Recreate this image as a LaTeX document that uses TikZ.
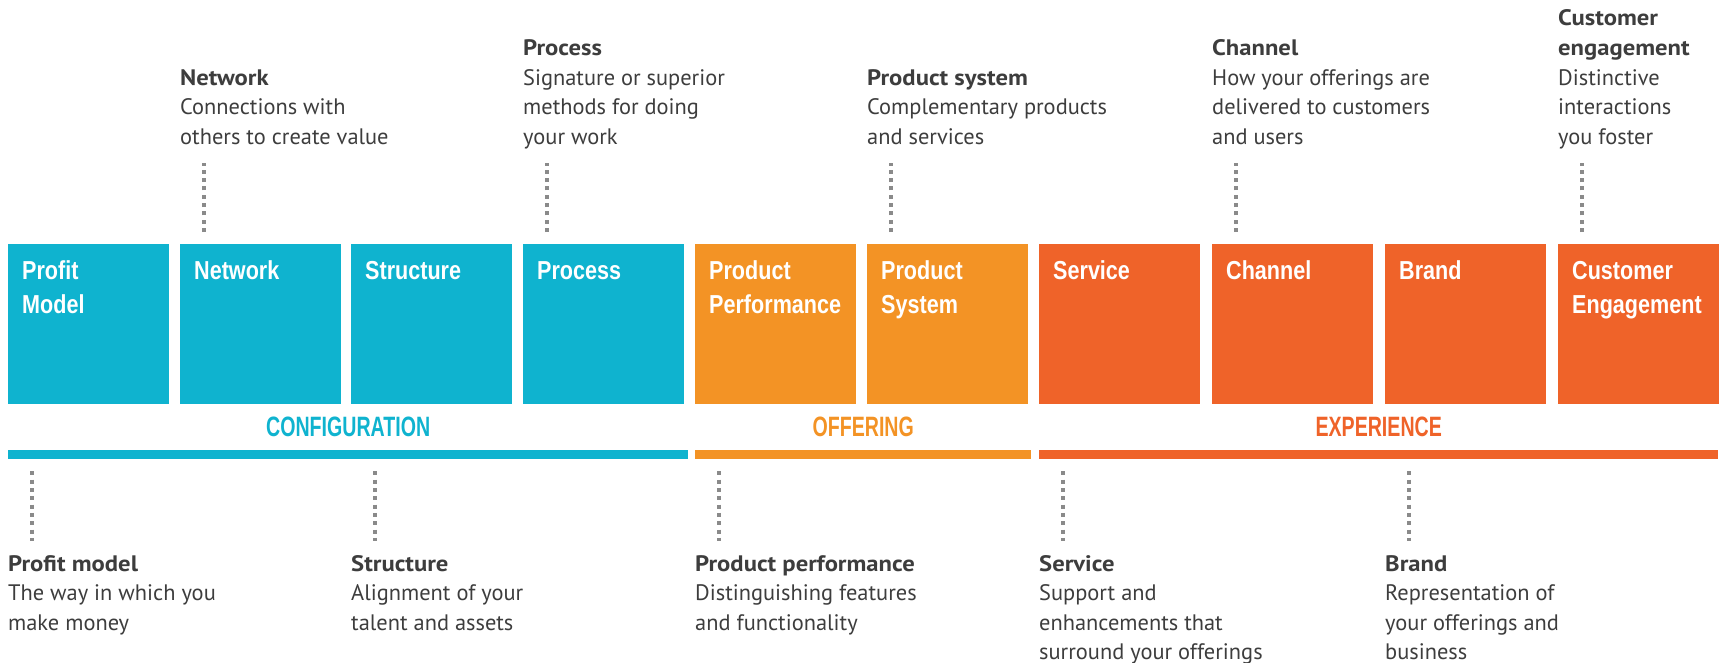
\documentclass[tikz,border=0pt]{standalone}
\usepackage{fontspec}
\setmainfont{PT Sans}
\newfontfamily\titlefont[FakeStretch=1.1]{PT Sans Bold}
\newfontfamily\tilefont[FakeStretch=0.83]{Liberation Sans Bold}
\newfontfamily\groupfont[FakeStretch=0.7]{Liberation Sans Bold}
\usetikzlibrary{positioning}

\definecolor{cfgblue}{HTML}{0FB3CF}
\definecolor{offorange}{HTML}{F39325}
\definecolor{expred}{HTML}{EF6329}
\definecolor{dotgray}{HTML}{8A8A8A}
\definecolor{txtgray}{HTML}{3D3D3D}

\newcommand{\desctitle}[1]{{\titlefont #1}}

\tikzset{
	tile/.style={anchor=north west, minimum width=161pt, text width=133pt, inner xsep=14pt, inner ysep=0pt, text height=35.3pt, text depth=124.7pt, align=left, text=white, font=\tilefont\fontsize{26}{34}\selectfont},
	bar/.style={anchor=north west, minimum height=9pt, inner sep=0pt},
	grouplabel/.style={inner sep=0pt, font=\groupfont\fontsize{28}{28}\selectfont},
	desc/.style={anchor=base west, inner sep=0pt, align=left, text=txtgray, font=\fontsize{22.4}{29.6}\selectfont},
	dotline/.style={draw=dotgray, line width=3.5pt, dash pattern=on 4pt off 4.3pt}
}

\begin{document}
\begin{tikzpicture}[x=1pt,y=-1pt]
	\useasboundingbox (0,0) rectangle (1721,663);

	\node[tile, fill=cfgblue] (bprofit) at (8,244) {Profit\\Model};
	\node[tile, fill=cfgblue] (bnetwork) at (180,244) {Network};
	\node[tile, fill=cfgblue] (bstructure) at (351,244) {Structure};
	\node[tile, fill=cfgblue] (bprocess) at (523,244) {Process};
	\node[tile, fill=offorange] (bperform) at (695,244) {Product\\Performance};
	\node[tile, fill=offorange] (bsystem) at (867,244) {Product\\System};
	\node[tile, fill=expred] (bservice) at (1039,244) {Service};
	\node[tile, fill=expred] (bchannel) at (1212,244) {Channel};
	\node[tile, fill=expred] (bbrand) at (1385,244) {Brand};
	\node[tile, fill=expred] (bengage) at (1558,244) {Customer\\Engagement};

	\node[bar, fill=cfgblue, minimum width=680pt] (cfgbar) at (8,450) {};
	\node[bar, fill=offorange, minimum width=336pt] (offbar) at (695,450) {};
	\node[bar, fill=expred, minimum width=679pt] (expbar) at (1039,450) {};

	\node[grouplabel, text=cfgblue, above=13pt of cfgbar] (cfglabel) {CONFIGURATION};
	\node[grouplabel, text=offorange, above=13pt of offbar] (offlabel) {OFFERING};
	\node[grouplabel, text=expred, above=13pt of expbar] (explabel) {EXPERIENCE};

	\node[desc] (dnetwork) at (180,144.4) {\desctitle{Network}\\Connections with\\others to create value};
	\node[desc] (dprocess) at (523,144.4) {\desctitle{Process}\\Signature or superior\\methods for doing\\your work};
	\node[desc] (dsystem) at (867,144.4) {\desctitle{Product system}\\Complementary products\\and services};
	\node[desc] (dchannel) at (1212,144.4) {\desctitle{Channel}\\How your offerings are\\delivered to customers\\and users};
	\node[desc] (dengage) at (1558,144.4) {\desctitle{Customer}\\\desctitle{engagement}\\Distinctive\\interactions\\you foster};

	\node[desc] (dprofit) at (8,630.2) {\desctitle{Profit model}\\The way in which you\\make money};
	\node[desc] (dstructure) at (351,630.2) {\desctitle{Structure}\\Alignment of your\\talent and assets};
	\node[desc] (dperform) at (695,630.2) {\desctitle{Product performance}\\Distinguishing features\\and functionality};
	\node[desc] (dservice) at (1039,659.8) {\desctitle{Service}\\Support and\\enhancements that\\surround your offerings};
	\node[desc] (dbrand) at (1385,659.8) {\desctitle{Brand}\\Representation of\\your offerings and\\business};

	\draw[dotline] ([xshift=24pt,yshift=12pt]bnetwork.north west) -- ([xshift=24pt,yshift=81pt]bnetwork.north west);
	\draw[dotline] ([xshift=24pt,yshift=12pt]bprocess.north west) -- ([xshift=24pt,yshift=81pt]bprocess.north west);
	\draw[dotline] ([xshift=24pt,yshift=12pt]bsystem.north west) -- ([xshift=24pt,yshift=81pt]bsystem.north west);
	\draw[dotline] ([xshift=24pt,yshift=12pt]bchannel.north west) -- ([xshift=24pt,yshift=81pt]bchannel.north west);
	\draw[dotline] ([xshift=24pt,yshift=12pt]bengage.north west) -- ([xshift=24pt,yshift=81pt]bengage.north west);

	\draw[dotline] ([xshift=24pt,yshift=-67pt]bprofit.south west) -- ([xshift=24pt,yshift=-137pt]bprofit.south west);
	\draw[dotline] ([xshift=24pt,yshift=-67pt]bstructure.south west) -- ([xshift=24pt,yshift=-137pt]bstructure.south west);
	\draw[dotline] ([xshift=24pt,yshift=-67pt]bperform.south west) -- ([xshift=24pt,yshift=-137pt]bperform.south west);
	\draw[dotline] ([xshift=24pt,yshift=-67pt]bservice.south west) -- ([xshift=24pt,yshift=-137pt]bservice.south west);
	\draw[dotline] ([xshift=24pt,yshift=-67pt]bbrand.south west) -- ([xshift=24pt,yshift=-137pt]bbrand.south west);
\end{tikzpicture}
\end{document}
